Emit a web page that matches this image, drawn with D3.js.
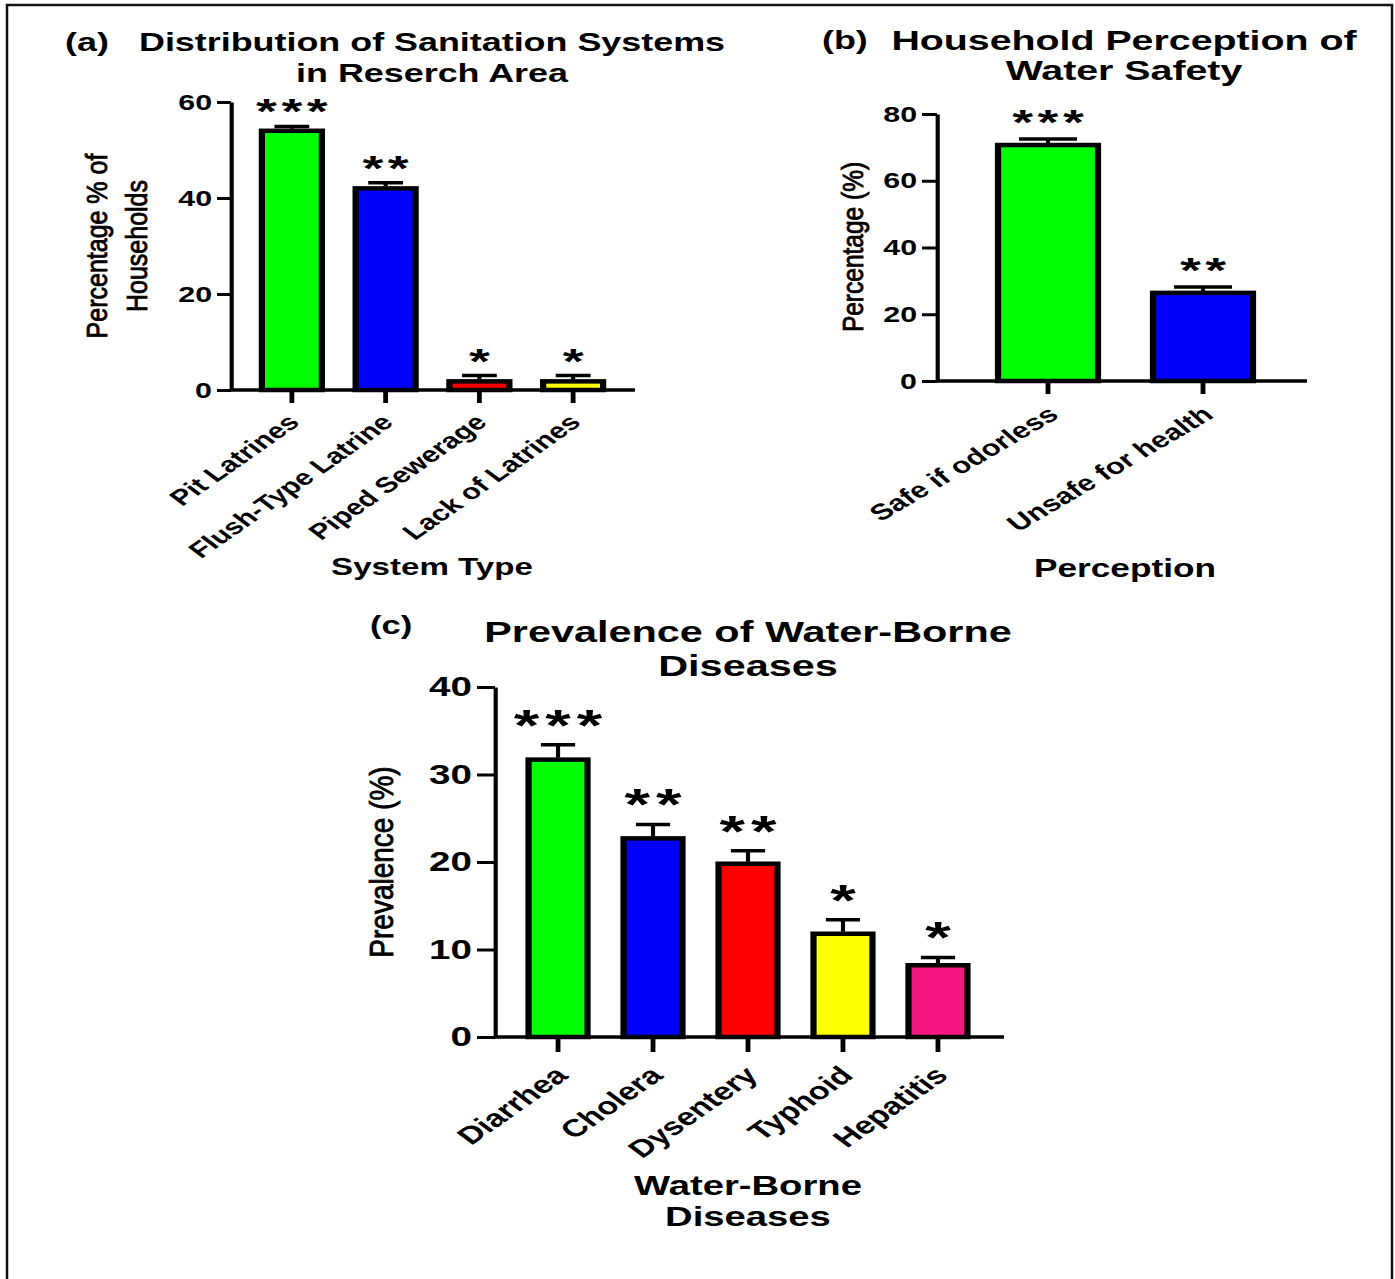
<!DOCTYPE html>
<html>
<head>
<meta charset="utf-8">
<script src="https://cdn.jsdelivr.net/npm/d3@7"></script>
<style>
body { margin: 0; background: #fff; }
svg text { font-family: "Liberation Sans", Arial, sans-serif; fill: #000; }
</style>
</head>
<body>
<script>
(function(){
    //panel (a) data
    var sanitationTypes = ["Pit Latrines", "Flush-Type Latrine", "Piped Sewerage", "Lack of Latrines"];
    var sanitationValues = [54, 42, 1.8, 1.8];
    var sanitationErrors = [0.9, 1.2, 1.2, 1.2];
    var sanitationStars = ["***", "**", "*", "*"];
    var sanitationTicks = [0, 20, 40, 60];

    //panel (b) data
    var perceptionTypes = ["Safe if odorless", "Unsafe for health"];
    var perceptionValues = [70.7, 26.4];
    var perceptionErrors = [1.8, 1.8];
    var perceptionStars = ["***", "**"];
    var perceptionTicks = [0, 20, 40, 60, 80];

    //panel (c) data
    var diseaseTypes = ["Diarrhea", "Cholera", "Dysentery", "Typhoid", "Hepatitis"];
    var diseaseValues = [31.7, 22.7, 19.8, 11.8, 8.2];
    var diseaseErrors = [1.7, 1.6, 1.5, 1.6, 0.9];
    var diseaseStars = ["***", "**", "**", "*", "*"];
    var diseaseTicks = [0, 10, 20, 30, 40];

    var barColors = ["#00ff00", "#0000ff", "#ff0000", "#ffff00", "#f5177f"];

    //the figure is stretched sideways, so everything is drawn in a scaled group
    var SX = 1.38,
        width = 1395,
        height = 1279;

    function ux(x){ return x / SX; }

    var svg = d3.select("body")
        .append("svg")
        .attr("width", width)
        .attr("height", height);

    //outer frame (bottom edge is cut off in the original)
    svg.append("rect")
        .attr("x", 7)
        .attr("y", 5)
        .attr("width", 1385)
        .attr("height", 1300)
        .attr("fill", "none")
        .attr("stroke", "#111")
        .attr("stroke-width", 2.5);

    var root = svg.append("g")
        .attr("transform", "scale(" + SX + ",1)");

    var panels = [
        {
            categories: sanitationTypes, values: sanitationValues, errors: sanitationErrors,
            stars: sanitationStars, ticks: sanitationTicks, yMax: 60,
            axisX: 231, yBottom: 390, yTop: 102, xEnd: 635,
            bandStart: 245, bandEnd: 620, padIn: 0.36, padOut: 0.18,
            yTick: 14, xTick: 13, tickFont: 22, labelFont: 22, labelOff: 24, labelDx: -4, rot: -44,
            starFont: 36, starGap: 3, starOff: -3,
            tag: "(a)", tagX: 65, tagY: 51, tagFont: 26,
            title: ["Distribution of Sanitation Systems", "in Reserch Area"], titleX: 432, titleY: [51, 82], titleFont: 26,
            xTitle: ["System Type"], xTitleX: 432, xTitleY: [575], xTitleFont: 24,
            yTitle: ["Percentage % of", "Households"], yTitleX: [107, 147], yTitleY: 246, yTitleFont: 25
        },
        {
            categories: perceptionTypes, values: perceptionValues, errors: perceptionErrors,
            stars: perceptionStars, ticks: perceptionTicks, yMax: 80,
            axisX: 937, yBottom: 381, yTop: 114, xEnd: 1307,
            bandStart: 970.5, bandEnd: 1280.5, padIn: 0.355, padOut: 0.1775,
            yTick: 15, xTick: 13, tickFont: 22, labelFont: 22.5, labelOff: 25, labelDx: 0, rot: -39,
            starFont: 36, starGap: 3, starOff: -5,
            tag: "(b)", tagX: 822, tagY: 49, tagFont: 26,
            title: ["Household Perception of", "Water Safety"], titleX: 1124, titleY: [50, 80], titleFont: 28.5,
            xTitle: ["Perception"], xTitleX: 1125, xTitleY: [577], xTitleFont: 25.5,
            yTitle: ["Percentage (%)"], yTitleX: [863], yTitleY: 247, yTitleFont: 24.5
        },
        {
            categories: diseaseTypes, values: diseaseValues, errors: diseaseErrors,
            stars: diseaseStars, ticks: diseaseTicks, yMax: 40,
            axisX: 495, yBottom: 1037, yTop: 687, xEnd: 1004,
            bandStart: 510.5, bandEnd: 985.5, padIn: 0.379, padOut: 0.19,
            yTick: 18, xTick: 15, tickFont: 28, labelFont: 24.5, labelOff: 29, labelDx: -3, rot: -44,
            starFont: 44, starGap: 4, starOff: -4,
            tag: "(c)", tagX: 370, tagY: 634, tagFont: 25,
            title: ["Prevalence of Water-Borne", "Diseases"], titleX: 748, titleY: [642, 676], titleFont: 30,
            xTitle: ["Water-Borne", "Diseases"], xTitleX: 748, xTitleY: [1195, 1226], xTitleFont: 27.7,
            yTitle: ["Prevalence (%)"], yTitleX: [393], yTitleY: 862, yTitleFont: 28
        }
    ];

    panels.forEach(drawPanel);

    function drawPanel(p){
        var g = root.append("g");

        var x = d3.scaleBand()
            .domain(p.categories)
            .range([ux(p.bandStart), ux(p.bandEnd)])
            .paddingInner(p.padIn)
            .paddingOuter(p.padOut);

        var y = d3.scaleLinear()
            .domain([0, p.yMax])
            .range([p.yBottom, p.yTop]);

        function cx(i){ return x(p.categories[i]) + x.bandwidth() / 2; }

        //bars
        g.selectAll(".bar")
            .data(p.values)
            .enter()
            .append("rect")
            .attr("class", "bar")
            .attr("x", function(d, i){ return x(p.categories[i]); })
            .attr("width", x.bandwidth())
            .attr("y", function(d){ return y(d); })
            .attr("height", function(d){ return y(0) - y(d); })
            .attr("fill", function(d, i){ return barColors[i]; })
            .attr("stroke", "#000")
            .attr("stroke-width", 4.5);

        //error bars (upper only)
        var err = g.selectAll(".err")
            .data(p.values)
            .enter()
            .append("g")
            .attr("class", "err");
        err.append("line")
            .attr("x1", function(d, i){ return cx(i); })
            .attr("x2", function(d, i){ return cx(i); })
            .attr("y1", function(d){ return y(d) - 2; })
            .attr("y2", function(d, i){ return y(d + p.errors[i]); })
            .attr("stroke", "#000")
            .attr("stroke-width", 3);
        err.append("line")
            .attr("x1", function(d, i){ return cx(i) - x.bandwidth() * 0.29; })
            .attr("x2", function(d, i){ return cx(i) + x.bandwidth() * 0.29; })
            .attr("y1", function(d, i){ return y(d + p.errors[i]); })
            .attr("y2", function(d, i){ return y(d + p.errors[i]); })
            .attr("stroke", "#000")
            .attr("stroke-width", 3.5);

        //significance stars (a bit wider than the plain glyph)
        g.selectAll(".star")
            .data(p.stars)
            .enter()
            .append("text")
            .attr("class", "star")
            .attr("transform", function(d, i){
                return "translate(" + cx(i) + "," + (y(p.values[i] + p.errors[i]) + p.starOff) + ") scale(1.08,1)";
            })
            .attr("dx", p.starGap / 2)
            .attr("text-anchor", "middle")
            .attr("letter-spacing", p.starGap)
            .attr("font-size", p.starFont)
            .attr("font-weight", "bold")
            .text(function(d){ return d; });

        //y axis
        var yAxis = d3.axisLeft(y)
            .tickValues(p.ticks)
            .tickSize(ux(p.yTick))
            .tickSizeOuter(0)
            .tickPadding(ux(5));
        var ya = g.append("g")
            .attr("transform", "translate(" + ux(p.axisX) + ",0)")
            .call(yAxis);
        ya.select(".domain").attr("stroke", "#000").attr("stroke-width", 3);
        ya.selectAll(".tick line").attr("stroke", "#000").attr("stroke-width", 3);
        ya.selectAll(".tick text")
            .attr("font-family", "Liberation Sans, Arial, sans-serif")
            .attr("font-weight", "bold")
            .attr("font-size", p.tickFont);

        //x axis
        var xAxis = d3.axisBottom(x)
            .tickSize(p.xTick)
            .tickSizeOuter(0);
        var xa = g.append("g")
            .attr("transform", "translate(0," + p.yBottom + ")")
            .call(xAxis);
        xa.select(".domain").remove();
        xa.selectAll(".tick line").attr("stroke", "#000").attr("stroke-width", 3.5);
        xa.selectAll(".tick text")
            .attr("font-family", "Liberation Sans, Arial, sans-serif")
            .attr("font-weight", "bold")
            .attr("font-size", p.labelFont)
            .attr("text-anchor", "end")
            .attr("x", 0)
            .attr("y", 0)
            .attr("dy", "0.62em")
            .attr("transform", "translate(" + ux(p.labelDx) + "," + p.labelOff + ") rotate(" + p.rot + ")");
        xa.append("line")
            .attr("x1", ux(p.axisX))
            .attr("x2", ux(p.xEnd))
            .attr("stroke", "#000")
            .attr("stroke-width", 3.5);

        //panel tag
        g.append("text")
            .attr("x", ux(p.tagX))
            .attr("y", p.tagY)
            .attr("font-family", "Liberation Serif, Times New Roman, serif")
            .attr("font-weight", "bold")
            .attr("font-size", p.tagFont)
            .text(p.tag);

        //title
        g.selectAll(".title")
            .data(p.title)
            .enter()
            .append("text")
            .attr("class", "title")
            .attr("x", ux(p.titleX))
            .attr("y", function(d, i){ return p.titleY[i]; })
            .attr("text-anchor", "middle")
            .attr("font-weight", "bold")
            .attr("font-size", p.titleFont)
            .text(function(d){ return d; });

        //x axis title
        g.selectAll(".xTitle")
            .data(p.xTitle)
            .enter()
            .append("text")
            .attr("class", "xTitle")
            .attr("x", ux(p.xTitleX))
            .attr("y", function(d, i){ return p.xTitleY[i]; })
            .attr("text-anchor", "middle")
            .attr("font-weight", "bold")
            .attr("font-size", p.xTitleFont)
            .text(function(d){ return d; });

        //y axis title (less stretched than the rest)
        g.selectAll(".yTitle")
            .data(p.yTitle)
            .enter()
            .append("text")
            .attr("class", "yTitle")
            .attr("transform", function(d, i){
                return "translate(" + ux(p.yTitleX[i]) + "," + p.yTitleY + ") rotate(-90) scale(1,0.88)";
            })
            .attr("text-anchor", "middle")
            .attr("font-size", p.yTitleFont)
            .attr("stroke", "#000")
            .attr("stroke-width", 0.7)
            .text(function(d){ return d; });
    };
})();
</script>
</body>
</html>
